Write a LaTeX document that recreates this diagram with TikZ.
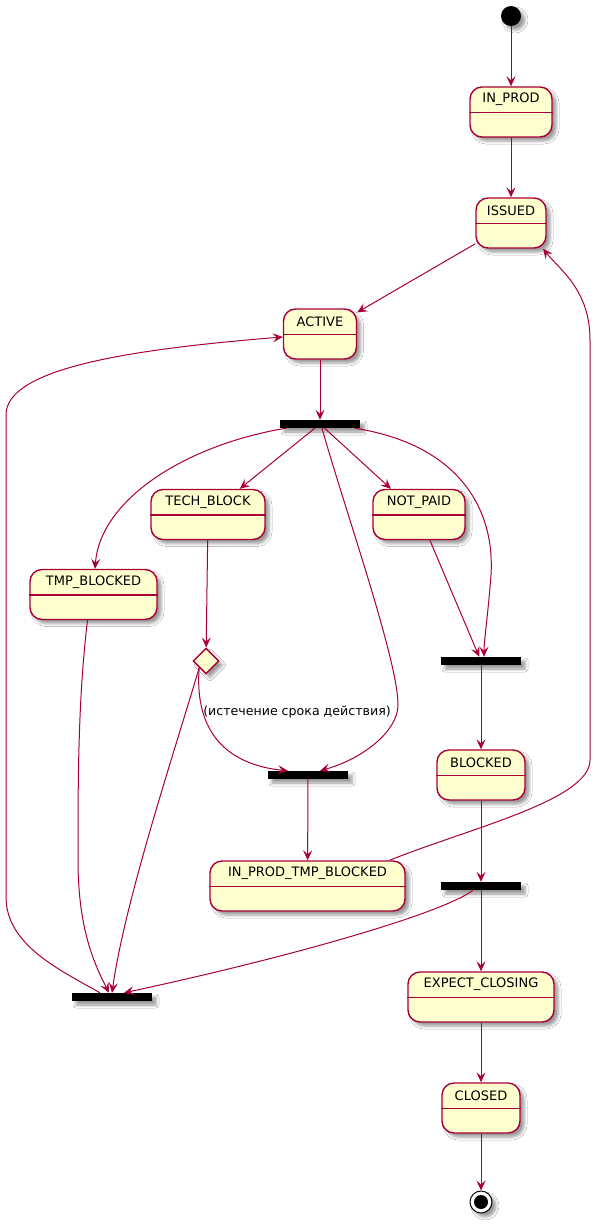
\documentclass[tikz,border=0pt]{standalone}
\usepackage{fontspec}
\setmainfont{DejaVu Sans}
\usetikzlibrary{arrows.meta,shapes.geometric,shadows.blur}
\definecolor{pborder}{HTML}{A80036}
\definecolor{pfill}{HTML}{FEFECE}
\tikzset{
 shad/.style={blur shadow={shadow xshift=4pt,shadow yshift=-4pt,shadow blur radius=3pt,shadow opacity=40}},
 statebox/.style={draw=pborder,fill=pfill,line width=1.4pt,rounded corners=12pt,minimum height=50pt,inner sep=0pt,shad},
 statelbl/.style={font=\fontsize{13}{15}\selectfont,anchor=center,inner sep=0pt},
 sepline/.style={draw=pborder,line width=1.4pt},
 barnode/.style={fill=black,minimum width=80pt,minimum height=8pt,inner sep=0pt,shad},
 conn/.style={draw=pborder,line width=1pt,-{Stealth[length=10pt,width=9pt,inset=4pt]}},
 edgelbl/.style={font=\fontsize{12.6}{14}\selectfont,inner sep=0pt},
}
\newcommand\mystate[5]{%
 \node[statebox,minimum width=#4pt] (#1) at (#2,#3) {};
 \node[statelbl] (#1L) at ([yshift=-13pt]#1.north) {#5};
 \draw[sepline] ([yshift=-26pt]#1.north west) -- ([yshift=-26pt]#1.north east);
}
\begin{document}
\begin{tikzpicture}[x=1pt,y=-1pt]
\fill[white] (0,0) rectangle (595,1225);
\useasboundingbox (0,0) rectangle (595,1225);

% start
\node[circle,fill=black,minimum size=20pt,inner sep=0pt,shad] (start) at (511,16) {};

\mystate{inprod}{511}{112}{82}{IN\_PROD}
\mystate{issued}{511}{223}{70}{ISSUED}
\mystate{active}{320}{334}{73}{ACTIVE}
\mystate{techblock}{208}{514.5}{114}{TECH\_BLOCK}
\mystate{notpaid}{419}{514.5}{92}{NOT\_PAID}
\mystate{tmpblocked}{93.5}{594.5}{127}{TMP\_BLOCKED}
\mystate{blocked}{481}{775}{88}{BLOCKED}
\mystate{ipt}{307.5}{886}{195}{IN\_PROD\_TMP\_BLOCKED}
\mystate{expect}{481}{997}{146}{EXPECT\_CLOSING}
\mystate{closed}{481}{1108}{78}{CLOSED}

% bars
\node[barnode] (bar1) at (320,424) {};
\node[barnode] (bar2) at (481,661) {};
\node[barnode] (bar3) at (308,775) {};
\node[barnode] (bar4) at (481,886) {};
\node[barnode] (bar5) at (112,997) {};

% choice
\node[diamond,draw=pborder,fill=pfill,line width=1.4pt,minimum size=26pt,inner sep=0pt,shad] (choice) at (206,661) {};

% end
\node[circle,draw=black,fill=white,line width=1pt,minimum size=22pt,inner sep=0pt,shad] (end) at (481,1202) {};
\node[circle,fill=black,minimum size=14pt,inner sep=0pt] (endin) at (end) {};

% connectors
\draw[conn] (start) -- (inprod);
\draw[conn] (inprod) -- (issued);
\draw[conn] (issued) -- (active);
\draw[conn] (active) -- (bar1);
\draw[conn] (bar1) -- (techblock);
\draw[conn] (bar1) -- (notpaid);
\draw[conn] ([xshift=-34pt]bar1.south) .. controls (185,445) and (100,500) .. ([xshift=1.5pt]tmpblocked.north);
\draw[conn] ([xshift=2pt]bar1.south) .. controls (345,510) and (398,660) .. (398,705) .. controls (398,730) and (365,758) .. ([xshift=12pt]bar3.north);
\draw[conn] ([xshift=35pt]bar1.south) .. controls (460,445) and (495,510) .. (491,575) .. controls (488,615) and (484,640) .. ([xshift=3pt]bar2.north);
\draw[conn] (notpaid) -- (bar2);
\draw[conn] (techblock) -- (choice);
\draw[conn] (choice.south west) .. controls (194,735) and (230,765) .. ([xshift=-20pt]bar3.north);
\node[edgelbl] (lbl) at (297,712) {(истечение срока действия)};
\draw[conn] (choice.south west) .. controls (175,750) and (125,900) .. (bar5.north);
\draw[conn] ([xshift=-6pt]tmpblocked.south) .. controls (78,700) and (78,780) .. (78,860) .. controls (78,930) and (95,965) .. ([xshift=-3pt]bar5.north);
\draw[conn] (bar2) -- (blocked);
\draw[conn] (blocked) -- (bar4);
\draw[conn] (bar3) -- (ipt);
\draw[conn] (bar4) -- (expect);
\draw[conn] ([xshift=-8pt]bar4.south) .. controls (445,912) and (300,955) .. ([xshift=12pt]bar5.north);
\draw[conn] ([xshift=-12pt]bar5.north) .. controls (60,970) and (6,945) .. (6,897) -- (6,415) .. controls (6,370) and (120,350) .. ([yshift=-3pt]active.west);
\draw[conn] ([xshift=82pt]ipt.north) .. controls (470,828) and (590,800) .. (590,760) -- (590,340) .. controls (590,290) and (560,270) .. ([xshift=32pt]issued.south);
\draw[conn] (expect) -- (closed);
\draw[conn] (closed) -- (end);
\end{tikzpicture}
\end{document}
